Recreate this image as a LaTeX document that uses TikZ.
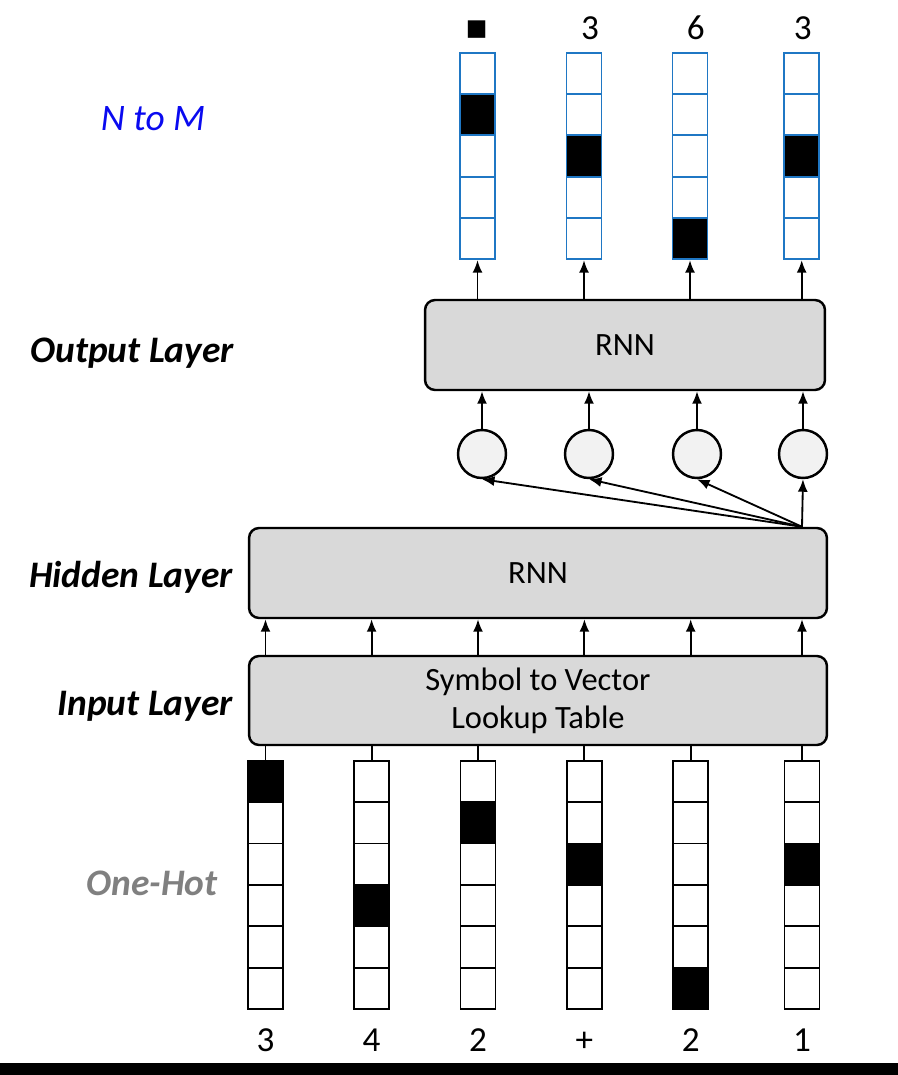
\documentclass[tikz,border=0pt]{standalone}
\usepackage{fontspec}
\setmainfont{Carlito}
\newfontfamily\symbolfont{DejaVu Sans}
\usetikzlibrary{arrows.meta}
\definecolor{layergray}{HTML}{D9D9D9}
\definecolor{unitgray}{HTML}{F2F2F2}
\definecolor{cellblue}{HTML}{1F77C4}
\definecolor{titleblue}{HTML}{0A0AF0}
\definecolor{hotgray}{HTML}{808080}
\tikzset{
  layer/.style={draw,line width=1.4pt,fill=layergray,rounded corners=0.2cm,
    inner sep=0pt,align=center,font=\fontsize{18.5}{21.7}\selectfont},
  unit/.style={circle,draw,line width=1.4pt,fill=unitgray,minimum size=0.96cm,inner sep=0pt},
  cell/.style={draw,line width=1.1pt,fill=white,minimum width=0.7cm,minimum height=0.828cm,inner sep=0pt},
  outcell/.style={cell,draw=cellblue,minimum height=0.826cm},
  tag/.style={font=\fontsize{21.3}{25}\selectfont\bfseries\itshape,anchor=base east},
  digit/.style={font=\fontsize{20}{24}\selectfont,anchor=base},
  link/.style={line width=1.05pt,-{Latex[length=0.25cm,width=0.2cm]}}
}
\begin{document}
\begin{tikzpicture}[x=0.02cm,y=-0.02cm]
      \useasboundingbox (0,0) rectangle (898,1075);
      \fill (0,1063) rectangle (898,1075);
      \node[layer,minimum width=8cm,minimum height=1.8cm] (out) at (625,345) {RNN};
      \node[layer,minimum width=11.56cm,minimum height=1.8cm] (hid) at (538,573) {RNN};
      \node[layer,minimum width=11.56cm,minimum height=1.78cm] (inp) at (538,700.5) {Symbol to Vector\\Lookup Table};
      \node[unit] (c1) at (482,454) {};
      \node[unit] (c2) at (589,454) {};
      \node[unit] (c3) at (697,454) {};
      \node[unit] (c4) at (803,454) {};
      \foreach \x/\h/\t [count=\i] in {265.5/0/3,371.6/3/4,478/1/2,584.4/2/+,690.7/5/2,802/2/1}{
        \foreach \k in {0,...,5}
          \node[cell] (x\i-\k) at (\x,{781.4+41.4*\k}) {};
        \node[cell,fill=black] (x\i-hot) at (x\i-\h) {};
        \node[digit] (t\i) at (\x,1051) {\t};
      }
      \foreach \x/\h [count=\i] in {477.5/1,584/2,690/4,801.7/2}{
        \foreach \k in {0,...,4}
          \node[outcell] (y\i-\k) at (\x,{73.35+41.3*\k}) {};
        \node[outcell,fill=black] (y\i-hot) at (y\i-\h) {};
      }
      \node[font=\symbolfont\fontsize{13}{15}\selectfont] (s1) at (476.7,30) {■};
      \node[digit] (s2) at (590,39.5) {3};
      \node[digit] (s3) at (695.7,39.5) {6};
      \node[digit] (s4) at (802.7,39.5) {3};
      \node[tag,anchor=base,text=titleblue,font=\fontsize{21.3}{25}\selectfont\itshape] (mode) at (153,130) {N to M};
      \node[tag] (lout) at (240,362) {Output Layer};
      \node[tag] (lhid) at (239,587) {Hidden Layer};
      \node[tag] (linp) at (239,715) {Input Layer};
      \node[tag,anchor=base,text=hotgray] (lhot) at (152,895) {One-Hot};
      \coordinate (src) at (hid.north -| x6-0);
      \begin{scope}[link]
        \draw (out.north -| y1-4) to (y1-4.south);
        \draw (out.north -| y2-4) to (y2-4.south);
        \draw (out.north -| y3-4) to (y3-4.south);
        \draw (out.north -| y4-4) to (y4-4.south);
        \draw (c1) to (c1 |- out.south);
        \draw (c2) to (c2 |- out.south);
        \draw (c3) to (c3 |- out.south);
        \draw (c4) to (c4 |- out.south);
        \draw (src) to (c1.south);
        \draw (src) to (c2.south);
        \draw (src) to (c3.south);
        \draw (src) to (c4.south);
        \draw (x1-0 |- inp.north) to (x1-0 |- hid.south);
        \draw (x2-0 |- inp.north) to (x2-0 |- hid.south);
        \draw (x3-0 |- inp.north) to (x3-0 |- hid.south);
        \draw (x4-0 |- inp.north) to (x4-0 |- hid.south);
        \draw (x5-0 |- inp.north) to (x5-0 |- hid.south);
        \draw (x6-0 |- inp.north) to (x6-0 |- hid.south);
      \end{scope}
      \begin{scope}[line width=1.05pt]
        \draw (x1-0.north) to (x1-0 |- inp.south);
        \draw (x2-0.north) to (x2-0 |- inp.south);
        \draw (x3-0.north) to (x3-0 |- inp.south);
        \draw (x4-0.north) to (x4-0 |- inp.south);
        \draw (x5-0.north) to (x5-0 |- inp.south);
        \draw (x6-0.north) to (x6-0 |- inp.south);
      \end{scope}
    \end{tikzpicture}
\end{document}
